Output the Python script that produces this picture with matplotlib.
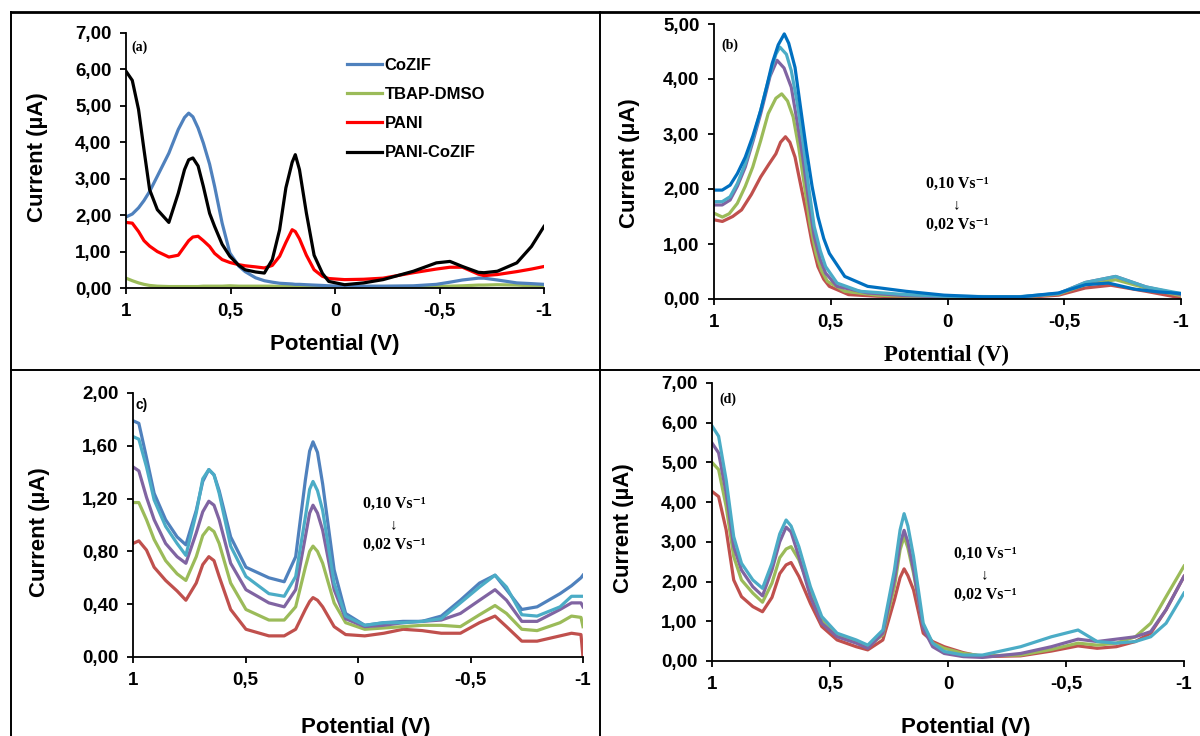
import matplotlib
matplotlib.use("Agg")
import matplotlib.pyplot as plt
from matplotlib.lines import Line2D
from matplotlib.ticker import FixedLocator, FixedFormatter, FuncFormatter

# ---- panel (a): electrolyte / PANI / CoZIF / composite
pot_a = [1, 0.97, 0.94, 0.914, 0.887, 0.85, 0.795, 0.75, 0.72, 0.7, 0.68, 0.655, 0.63, 0.6,
         0.576, 0.54, 0.503, 0.46, 0.43, 0.38, 0.338, 0.3, 0.265, 0.235, 0.205, 0.19, 0.17,
         0.137, 0.1, 0.06, 0.03, -0.046, -0.137, -0.23, -0.375, -0.485, -0.55, -0.61, -0.686,
         -0.713, -0.777, -0.87, -0.94, -1]
cozif = [1.95, 2.03, 2.2, 2.4, 2.65, 3.07, 3.7, 4.35, 4.68, 4.8, 4.7, 4.39, 3.98, 3.4,
         2.79, 1.78, 0.96, 0.6, 0.45, 0.28, 0.2, 0.16, 0.13, 0.12, 0.11, 0.1, 0.1,
         0.09, 0.08, 0.07, 0.06, 0.05, 0.05, 0.05, 0.06, 0.1, 0.16, 0.22, 0.27,
         0.27, 0.22, 0.14, 0.12, 0.1]
tbap = [0.27, 0.2, 0.14, 0.1, 0.07, 0.05, 0.04, 0.04, 0.04, 0.04, 0.04, 0.04, 0.05, 0.05,
        0.05, 0.05, 0.06, 0.05, 0.05, 0.05, 0.05, 0.05, 0.04, 0.04, 0.04, 0.04, 0.04,
        0.04, 0.04, 0.04, 0.04, 0.04, 0.04, 0.04, 0.04, 0.04, 0.05, 0.06, 0.08,
        0.08, 0.09, 0.08, 0.06, 0.05]
pani = [1.8, 1.78, 1.55, 1.3, 1.15, 1.0, 0.85, 0.9, 1.14, 1.3, 1.4, 1.42, 1.3, 1.14,
        0.95, 0.78, 0.7, 0.64, 0.61, 0.58, 0.55, 0.62, 0.87, 1.25, 1.6, 1.55, 1.35,
        0.9, 0.5, 0.32, 0.26, 0.23, 0.24, 0.27, 0.42, 0.52, 0.57, 0.57, 0.38,
        0.34, 0.37, 0.45, 0.52, 0.59]
pani_cozif = [5.95, 5.7, 4.9, 3.8, 2.7, 2.15, 1.8, 2.6, 3.25, 3.52, 3.57, 3.35, 2.79, 2.05,
              1.69, 1.2, 0.87, 0.62, 0.5, 0.44, 0.41, 0.78, 1.6, 2.75, 3.45, 3.66, 3.25,
              2.06, 0.9, 0.4, 0.18, 0.09, 0.14, 0.23, 0.46, 0.69, 0.73, 0.59, 0.43,
              0.42, 0.46, 0.69, 1.14, 1.69]

# ---- panel (b): CoZIF at different scan rates
b_x_010 = [1, 0.965, 0.931, 0.9, 0.866, 0.833, 0.8, 0.775, 0.751, 0.725, 0.699, 0.68, 0.653,
           0.63, 0.604, 0.58, 0.555, 0.53, 0.506, 0.44, 0.342, 0.178, 0.015, -0.149, -0.313,
           -0.476, -0.591, -0.689, -0.8, -0.9, -1]
b_y_010 = [1.98, 1.98, 2.07, 2.28, 2.58, 2.97, 3.43, 3.85, 4.28, 4.62, 4.82, 4.65, 4.21,
           3.5, 2.71, 2.05, 1.5, 1.1, 0.83, 0.41, 0.23, 0.14, 0.07, 0.04, 0.04,
           0.11, 0.26, 0.29, 0.18, 0.13, 0.1]
b_x_008 = [1, 0.965, 0.931, 0.9, 0.866, 0.833, 0.8, 0.775, 0.751, 0.735, 0.718, 0.69, 0.669,
           0.645, 0.62, 0.595, 0.571, 0.545, 0.522, 0.473, 0.375, 0.178, 0.015, -0.3, -0.476,
           -0.59, -0.72, -0.85, -1]
b_y_008 = [1.77, 1.77, 1.86, 2.1, 2.46, 2.92, 3.43, 3.85, 4.22, 4.45, 4.58, 4.45, 4.15,
           3.6, 2.89, 2.05, 1.32, 0.88, 0.59, 0.29, 0.14, 0.08, 0.05, 0.04, 0.1,
           0.3, 0.41, 0.22, 0.1]
b_x_006 = [1, 0.965, 0.931, 0.9, 0.866, 0.833, 0.8, 0.76, 0.73, 0.7, 0.669, 0.645, 0.62,
           0.595, 0.571, 0.545, 0.522, 0.473, 0.342, 0.178, 0.015, -0.3, -0.476, -0.59,
           -0.72, -0.85, -1]
b_y_006 = [1.71, 1.71, 1.8, 2.05, 2.4, 2.87, 3.37, 4.05, 4.34, 4.2, 3.85, 3.25, 2.58,
           1.8, 1.14, 0.72, 0.47, 0.23, 0.11, 0.06, 0.04, 0.03, 0.1, 0.3,
           0.41, 0.22, 0.08]
b_x_004 = [1, 0.964, 0.935, 0.9, 0.866, 0.834, 0.8, 0.768, 0.735, 0.71, 0.685, 0.661, 0.637,
           0.612, 0.588, 0.563, 0.54, 0.514, 0.44, 0.3, 0.1, -0.3, -0.476, -0.59, -0.72,
           -0.85, -1]
b_y_004 = [1.56, 1.49, 1.55, 1.74, 2.05, 2.4, 2.88, 3.37, 3.65, 3.73, 3.6, 3.31, 2.75,
           2.04, 1.35, 0.83, 0.52, 0.32, 0.14, 0.07, 0.04, 0.03, 0.09, 0.26, 0.35,
           0.2, 0.06]
b_x_002 = [1, 0.964, 0.92, 0.882, 0.84, 0.8, 0.765, 0.735, 0.715, 0.694, 0.675, 0.653, 0.63,
           0.604, 0.58, 0.555, 0.53, 0.506, 0.424, 0.3, 0.1, -0.3, -0.476, -0.59, -0.7,
           -0.85, -1]
b_y_002 = [1.44, 1.41, 1.5, 1.62, 1.9, 2.22, 2.45, 2.64, 2.85, 2.95, 2.85, 2.58, 2.1,
           1.56, 1.02, 0.59, 0.36, 0.23, 0.08, 0.05, 0.03, 0.02, 0.07, 0.2, 0.25,
           0.14, 0.02]

# ---- panel (c): PANI at different scan rates
pot_c = [1, 0.974, 0.94, 0.906, 0.855, 0.804, 0.765, 0.719, 0.69, 0.663, 0.64, 0.617, 0.566,
         0.498, 0.396, 0.328, 0.277, 0.234, 0.215, 0.2, 0.18, 0.157, 0.106, 0.055, -0.03,
         -0.115, -0.2, -0.285, -0.37, -0.455, -0.54, -0.609, -0.66, -0.728, -0.796, -0.898,
         -0.949, -0.991, -1]
c_010 = [1.79, 1.77, 1.51, 1.24, 1.04, 0.91, 0.85, 1.11, 1.33, 1.42, 1.38, 1.26, 0.91,
         0.68, 0.6, 0.57, 0.76, 1.34, 1.56, 1.63, 1.55, 1.31, 0.66, 0.33, 0.24,
         0.26, 0.27, 0.27, 0.31, 0.43, 0.56, 0.62, 0.51, 0.36, 0.38, 0.48,
         0.54, 0.6, 0.62]
c_008 = [1.67, 1.65, 1.44, 1.19, 0.99, 0.86, 0.77, 1.09, 1.35, 1.42, 1.38, 1.24, 0.84,
         0.61, 0.48, 0.46, 0.61, 1.06, 1.27, 1.33, 1.26, 1.11, 0.56, 0.31, 0.24,
         0.26, 0.26, 0.27, 0.29, 0.41, 0.53, 0.62, 0.53, 0.32, 0.31, 0.38,
         0.46, 0.46, 0.46]
c_006 = [1.44, 1.41, 1.21, 1.04, 0.86, 0.76, 0.71, 0.94, 1.1, 1.18, 1.15, 1.04, 0.71,
         0.51, 0.41, 0.38, 0.51, 0.91, 1.09, 1.15, 1.09, 0.96, 0.51, 0.29, 0.23,
         0.24, 0.26, 0.27, 0.28, 0.33, 0.43, 0.51, 0.43, 0.27, 0.27, 0.36,
         0.41, 0.41, 0.38]
c_004 = [1.17, 1.17, 1.04, 0.89, 0.73, 0.63, 0.58, 0.76, 0.92, 0.98, 0.95, 0.86, 0.56,
         0.36, 0.28, 0.28, 0.38, 0.68, 0.8, 0.84, 0.8, 0.71, 0.41, 0.26, 0.21,
         0.22, 0.23, 0.24, 0.24, 0.23, 0.32, 0.39, 0.33, 0.21, 0.2, 0.26,
         0.31, 0.3, 0.23]
c_002 = [0.86, 0.88, 0.81, 0.68, 0.58, 0.5, 0.43, 0.56, 0.7, 0.76, 0.73, 0.61, 0.36,
         0.21, 0.16, 0.16, 0.21, 0.36, 0.42, 0.45, 0.43, 0.38, 0.23, 0.17, 0.16,
         0.18, 0.21, 0.2, 0.18, 0.18, 0.26, 0.31, 0.23, 0.12, 0.12, 0.16,
         0.18, 0.17, 0.0]

# ---- panel (d): PANI-CoZIF at different scan rates
pot_d = [1, 0.972, 0.94, 0.908, 0.875, 0.827, 0.786, 0.746, 0.713, 0.686, 0.665, 0.632, 0.583,
         0.535, 0.47, 0.389, 0.34, 0.276, 0.227, 0.203, 0.186, 0.17, 0.146, 0.105, 0.065,
         0.016, -0.065, -0.146, -0.308, -0.438, -0.551, -0.632, -0.713, -0.794, -0.859,
         -0.924, -1]
d_010 = [5.92, 5.66, 4.56, 3.13, 2.46, 2.04, 1.83, 2.46, 3.2, 3.55, 3.4, 2.88, 1.87,
         1.12, 0.7, 0.53, 0.4, 0.78, 2.29, 3.3, 3.71, 3.4, 2.63, 0.95, 0.45,
         0.24, 0.15, 0.15, 0.36, 0.61, 0.78, 0.49, 0.45, 0.49, 0.61,
         0.95, 1.71]
d_008 = [5.49, 5.24, 4.23, 2.88, 2.29, 1.87, 1.64, 2.29, 3.0, 3.37, 3.25, 2.63, 1.62,
         0.95, 0.61, 0.45, 0.32, 0.7, 2.04, 2.95, 3.29, 3.0, 2.29, 0.82, 0.36,
         0.19, 0.11, 0.09, 0.19, 0.36, 0.55, 0.49, 0.55, 0.61, 0.74,
         1.29, 2.13]
d_006 = [5.0, 4.82, 3.89, 2.63, 2.04, 1.71, 1.48, 1.96, 2.6, 2.82, 2.88, 2.55, 1.79,
         1.03, 0.66, 0.49, 0.36, 0.66, 1.87, 2.8, 3.13, 2.85, 2.21, 0.87, 0.45,
         0.32, 0.19, 0.13, 0.15, 0.29, 0.45, 0.4, 0.45, 0.61, 0.95,
         1.62, 2.39]
d_004 = [4.27, 4.14, 3.3, 2.04, 1.62, 1.37, 1.24, 1.6, 2.2, 2.42, 2.48, 2.13, 1.45,
         0.87, 0.53, 0.36, 0.28, 0.53, 1.54, 2.1, 2.32, 2.15, 1.79, 0.7, 0.49,
         0.36, 0.21, 0.11, 0.13, 0.25, 0.38, 0.32, 0.36, 0.49, 0.7,
         1.29, 2.13]

x_ticks = [1, 0.5, 0, -0.5, -1]
x_tick_labels = ['1', '0,5', '0', '-0,5', '-1']

BLUE = '#4F81BD'
DBLUE = '#0070C0'
AQUA = '#4BACC6'
PURPLE = '#8064A2'
GREEN = '#9BBB59'
RED = '#C0504D'

plt.rcParams['font.family'] = ['Liberation Sans', 'DejaVu Sans']
plt.rcParams['font.weight'] = 'bold'
SERIF = ['Liberation Serif', 'DejaVu Serif']

W, H = 1200, 736
fig = plt.figure(figsize=(W / 100, H / 100), dpi=100)


def box(l, t, r, b):
    return [l / W, 1 - b / H, (r - l) / W, (b - t) / H]


def fx(x):
    return x / W


def fy(y):
    return 1 - y / H


def setup(ax, ymax, ystep):
    ax.set_xlim(1, -1)
    ax.set_ylim(0, ymax)
    for s in ['top', 'right']:
        ax.spines[s].set_visible(False)
    for s in ['left', 'bottom']:
        ax.spines[s].set_linewidth(1.3)
    ax.xaxis.set_major_locator(FixedLocator(x_ticks))
    ax.xaxis.set_major_formatter(FixedFormatter(x_tick_labels))
    n = int(round(ymax / ystep))
    ax.yaxis.set_major_locator(FixedLocator([i * ystep for i in range(n + 1)]))
    ax.yaxis.set_major_formatter(FuncFormatter(lambda v, p: f'{v:.2f}'.replace('.', ',')))
    ax.tick_params(direction='out', length=4.5, width=1.3, labelsize=13.5)
    ax.tick_params(axis='y', pad=6)
    ax.tick_params(axis='x', pad=6)
    for lab in ax.get_xticklabels() + ax.get_yticklabels():
        lab.set_fontweight('bold')
    ax.set_facecolor('none')


def rate_note(xc, y1):
    fig.text(fx(xc), fy(y1), '0,10 Vs\u207b\u00b9', family=SERIF, fontsize=11.5,
             fontweight='bold', ha='center', va='center')
    fig.text(fx(xc), fy(y1 + 21), '\u2193', family=SERIF, fontsize=11,
             ha='center', va='center')
    fig.text(fx(xc), fy(y1 + 41), '0,02 Vs\u207b\u00b9', family=SERIF, fontsize=11.5,
             fontweight='bold', ha='center', va='center')


LW = 2.3
LABEL_FS = 16

# (a)
ax_a = fig.add_axes(box(126, 33, 544, 288))
ax_a.plot(pot_a, tbap, color=GREEN, lw=LW, label='TBAP-DMSO')
ax_a.plot(pot_a, cozif, color=BLUE, lw=LW, label='CoZIF')
ax_a.plot(pot_a, pani, color='#FF0000', lw=LW, label='PANI')
ax_a.plot(pot_a, pani_cozif, color='black', lw=LW, label='PANI-CoZIF')
setup(ax_a, 7, 1)
h, l = ax_a.get_legend_handles_labels()
order = [1, 0, 2, 3]
ax_a.legend([h[i] for i in order], [l[i] for i in order], loc='upper left',
            bbox_to_anchor=(0.509, 0.935), frameon=False, prop={'weight': 'bold', 'size': 12},
            handlelength=2.1, handletextpad=0.15, labelspacing=0.85, borderpad=0)
ax_a.text(0.975, 6.62, '(a)', family=SERIF, fontsize=10, fontweight='bold', va='center')
fig.text(fx(38), fy(157), 'Current (\u00b5A)', rotation=90, fontsize=LABEL_FS,
         fontweight='bold', ha='center', va='center')
fig.text(fx(335), fy(344), 'Potential (V)', fontsize=LABEL_FS, fontweight='bold',
         ha='center', va='center')

# (b)
ax_b = fig.add_axes(box(714, 24, 1181, 299))
ax_b.plot(b_x_002, b_y_002, color=RED, lw=LW)
ax_b.plot(b_x_004, b_y_004, color=GREEN, lw=LW)
ax_b.plot(b_x_006, b_y_006, color=PURPLE, lw=LW)
ax_b.plot(b_x_008, b_y_008, color=AQUA, lw=LW)
ax_b.plot(b_x_010, b_y_010, color=DBLUE, lw=LW)
setup(ax_b, 5, 1)
ax_b.text(0.97, 4.62, '(b)', family=SERIF, fontsize=10, fontweight='bold', va='center')
fig.text(fx(629), fy(163), 'Current (\u00b5A)', rotation=90, fontsize=LABEL_FS,
         fontweight='bold', ha='center', va='center')
fig.text(fx(946), fy(355), 'Potential (V)', family=SERIF, fontsize=16.5, fontweight='bold',
         ha='center', va='center')
rate_note(957, 184)

# (c)
ax_c = fig.add_axes(box(133, 393, 583, 657))
ax_c.plot(pot_c, c_002, color=RED, lw=LW)
ax_c.plot(pot_c, c_004, color=GREEN, lw=LW)
ax_c.plot(pot_c, c_006, color=PURPLE, lw=LW)
ax_c.plot(pot_c, c_010, color=BLUE, lw=LW)
ax_c.plot(pot_c, c_008, color=AQUA, lw=LW)
setup(ax_c, 2, 0.4)
ax_c.text(0.99, 1.91, 'c)', fontsize=10, fontweight='bold', va='center')
fig.text(fx(40), fy(532), 'Current (\u00b5A)', rotation=90, fontsize=LABEL_FS,
         fontweight='bold', ha='center', va='center')
fig.text(fx(366), fy(727), 'Potential (V)', fontsize=LABEL_FS, fontweight='bold',
         ha='center', va='center')
rate_note(394, 504)

# (d)
ax_d = fig.add_axes(box(712, 383, 1184, 661))
ax_d.plot(pot_d, d_004, color=RED, lw=LW)
ax_d.plot(pot_d, d_006, color=GREEN, lw=LW)
ax_d.plot(pot_d, d_008, color=PURPLE, lw=LW)
ax_d.plot(pot_d, d_010, color=AQUA, lw=LW)
setup(ax_d, 7, 1)
ax_d.text(0.97, 6.6, '(d)', family=SERIF, fontsize=10, fontweight='bold', va='center')
fig.text(fx(623), fy(528), 'Current (\u00b5A)', rotation=90, fontsize=LABEL_FS,
         fontweight='bold', ha='center', va='center')
fig.text(fx(966), fy(727), 'Potential (V)', fontsize=LABEL_FS, fontweight='bold',
         ha='center', va='center')
rate_note(985, 554)

# panel frames
frame = dict(color='black', lw=1.4, transform=fig.transFigure)
fig.add_artist(Line2D([fx(11), fx(11)], [fy(12), fy(736)], **frame))
fig.add_artist(Line2D([fx(11), fx(1200)], [fy(12), fy(12)], color='black', lw=2.0,
                      transform=fig.transFigure))
fig.add_artist(Line2D([fx(600), fx(600)], [fy(12), fy(736)], **frame))
fig.add_artist(Line2D([fx(11), fx(1200)], [fy(370), fy(370)], **frame))

fig.savefig('out.png', dpi=100)
